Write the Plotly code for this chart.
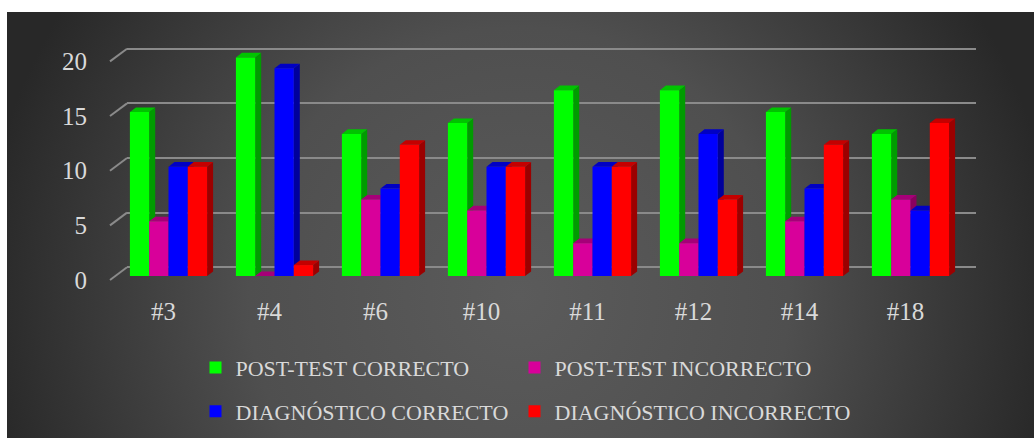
import base64
import plotly.graph_objects as go

# ---------------- data ----------------
categories = ["#3", "#4", "#6", "#10", "#11", "#12", "#14", "#18"]
post_test_correcto = [15, 20, 13, 14, 17, 17, 15, 13]
post_test_incorrecto = [5, 0, 7, 6, 3, 3, 5, 7]
diagnostico_correcto = [10, 19, 8, 10, 10, 13, 8, 6]
diagnostico_incorrecto = [10, 1, 12, 10, 10, 7, 12, 14]
series_names = ["POST-TEST CORRECTO", "POST-TEST INCORRECTO",
                "DIAGNÓSTICO CORRECTO", "DIAGNÓSTICO INCORRECTO"]
y_ticks = [0, 5, 10, 15, 20]

series_values = [post_test_correcto, post_test_incorrecto,
                 diagnostico_correcto, diagnostico_incorrecto]
front_colors = ["#00ff00", "#d8009a", "#0000ff", "#ff0000"]
side_colors = ["#009c00", "#8a005f", "#00009c", "#9c0000"]
top_colors = ["#00c400", "#a60078", "#0000c4", "#c40000"]
legend_ids = ["legend", "legend2", "legend3", "legend4"]

# ---------------- geometry ----------------
W, H = 1034, 438
FONT = "Liberation Serif"
TXT = "#d9d9d9"
GRID = "#8a8a8a"


def fx(px):
    return px / W


def fy(py):
    return 1 - py / H


PX_PER_CAT = 106.0
CAT0_PX = 168.5
PX_PER_UNIT = 10.93
X_DOM = (127, 976)
Y_DOM = (25, 290)           # top, bottom in px
BAR_ZERO_PX = 276.0
GRID_ZERO_PX = 267.3
LABEL_ZERO_PX = 280.0

BAR_W = 19.3 / PX_PER_CAT
DX = 6.0 / PX_PER_CAT
DY = 4.6 / PX_PER_UNIT
GRID_SHIFT = (BAR_ZERO_PX - GRID_ZERO_PX) / PX_PER_UNIT    # back wall offset
LABEL_SHIFT = (LABEL_ZERO_PX - GRID_ZERO_PX) / PX_PER_UNIT


def x_range():
    return [(X_DOM[0] - CAT0_PX) / PX_PER_CAT, (X_DOM[1] - CAT0_PX) / PX_PER_CAT]


def y_range(zero_px):
    return [(zero_px - Y_DOM[1]) / PX_PER_UNIT, (zero_px - Y_DOM[0]) / PX_PER_UNIT]


fig = go.Figure()

# 3D side and top faces (base subplot, under the front faces)
for j, vals in enumerate(series_values):
    sx, sy, tx, ty = [], [], [], []
    for i, v in enumerate(vals):
        xl = i + (-2 + j) * BAR_W
        xr = xl + BAR_W
        sx += [xr, xr + DX, xr + DX, xr, xr, None]
        sy += [0, DY, v + DY, v, 0, None]
        tx += [xl, xr, xr + DX, xl + DX, xl, None]
        ty += [v, v, v + DY, v + DY, v, None]
    fig.add_trace(go.Scatter(x=sx, y=sy, mode="lines", fill="toself",
                             fillcolor=side_colors[j], line=dict(width=0),
                             hoverinfo="skip", showlegend=False))
    fig.add_trace(go.Scatter(x=tx, y=ty, mode="lines", fill="toself",
                             fillcolor=top_colors[j], line=dict(width=0),
                             hoverinfo="skip", showlegend=False))

# front faces (overlay y3, above the side faces)
for j, vals in enumerate(series_values):
    fig.add_trace(go.Bar(x=list(range(len(categories))), y=vals, width=BAR_W,
                         offset=(-2 + j) * BAR_W, name=series_names[j],
                         marker=dict(color=front_colors[j], line=dict(width=0)),
                         yaxis="y3", legend=legend_ids[j]))

# depth diagonals at the left of each grid line
shapes = []
for v in y_ticks:
    shapes.append(dict(type="line", xref="paper", yref="y4",
                       x0=fx(110), x1=fx(127), y0=v, y1=v + LABEL_SHIFT,
                       line=dict(color=GRID, width=2)))

# radial gradient background
bw, bh = W - 7, H - 12
svg = (f'<svg xmlns="http://www.w3.org/2000/svg" width="{bw}" height="{bh}" '
       f'viewBox="0 0 {bw} {bh}" preserveAspectRatio="none"><defs>'
       f'<radialGradient id="g" gradientUnits="userSpaceOnUse" cx="512" cy="285" r="540">'
       f'<stop offset="0" stop-color="#5b5b5b"/><stop offset="0.5" stop-color="#4f4f4f"/>'
       f'<stop offset="1" stop-color="#282828"/></radialGradient></defs>'
       f'<rect x="0" y="0" width="{bw}" height="{bh}" fill="url(#g)"/></svg>')
src = "data:image/svg+xml;base64," + base64.b64encode(svg.encode()).decode()

legend_common = dict(orientation="h", xanchor="left", yanchor="middle",
                     bgcolor="rgba(0,0,0,0)", itemwidth=30,
                     font=dict(family=FONT, size=22, color=TXT))
# legend anchor positions (px): two columns, two rows
leg_x = [195.5, 514.5, 195.5, 514.5]
leg_y = [367.8, 367.8, 411.5, 411.5]
legends = {lid: dict(x=fx(leg_x[k]), y=fy(leg_y[k]), **legend_common)
           for k, lid in enumerate(legend_ids)}

fig.update_layout(
    width=W, height=H,
    margin=dict(l=0, r=0, t=0, b=0, pad=0),
    paper_bgcolor="white", plot_bgcolor="rgba(0,0,0,0)",
    barmode="overlay",
    images=[dict(source=src, xref="paper", yref="paper", x=fx(7), y=fy(12),
                 sizex=bw / W, sizey=bh / H, sizing="stretch",
                 xanchor="left", yanchor="top", layer="below")],
    shapes=shapes,
    xaxis=dict(domain=[fx(X_DOM[0]), fx(X_DOM[1])], range=x_range(),
               tickvals=list(range(len(categories))), ticktext=categories,
               showgrid=False, zeroline=False, showline=False, ticks="",
               tickfont=dict(family=FONT, size=25, color=TXT),
               ticklabelshift=-5, ticklabelstandoff=4, automargin=False),
    yaxis=dict(domain=[fy(Y_DOM[1]), fy(Y_DOM[0])], range=y_range(BAR_ZERO_PX),
               tickvals=[v + GRID_SHIFT for v in y_ticks],
               showgrid=True, gridcolor=GRID, gridwidth=2,
               zeroline=False, showticklabels=False, ticks="", showline=False,
               automargin=False),
    yaxis3=dict(overlaying="y", range=y_range(BAR_ZERO_PX), visible=False),
    yaxis4=dict(overlaying="y", anchor="free", position=fx(87), side="left",
                range=y_range(LABEL_ZERO_PX), tickvals=y_ticks,
                showgrid=False, zeroline=False, showline=False, ticks="",
                tickfont=dict(family=FONT, size=25, color=TXT), automargin=False),
    **legends,
)

fig.write_html("out.html", config={"displayModeBar": False},
               post_script="document.body.style.margin='0';")
